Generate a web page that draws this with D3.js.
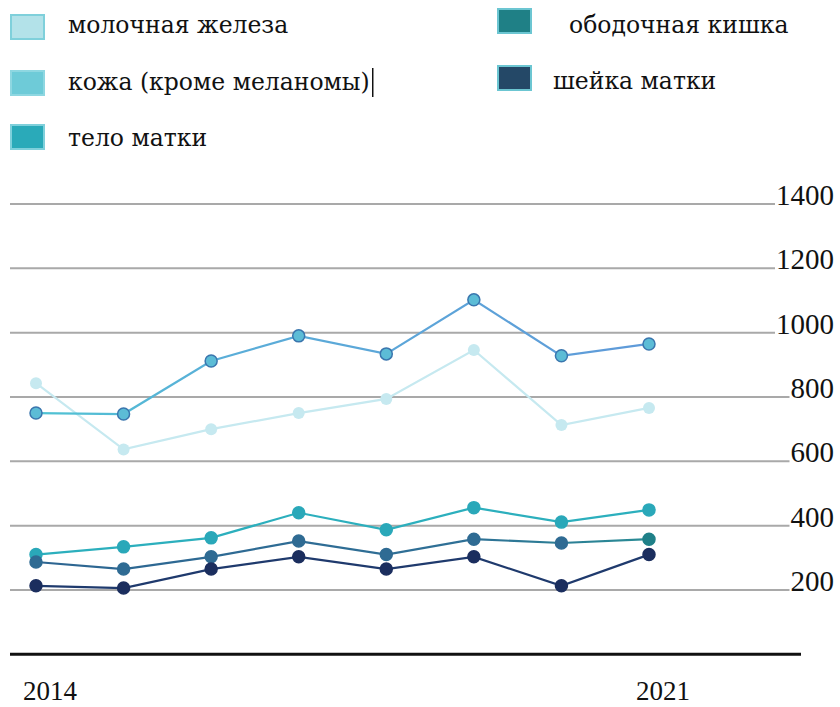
<!DOCTYPE html>
<html>
<head>
<meta charset="utf-8">
<script src="https://cdn.jsdelivr.net/npm/d3@7/dist/d3.min.js"></script>
<style>
  html, body { margin: 0; padding: 0; background: #ffffff; }
  svg { display: block; }
  text { font-family: "Liberation Serif", "DejaVu Serif", serif; fill: #111; }
  text.legend-label { font-family: "DejaVu Serif", "Liberation Serif", serif; }
</style>
</head>
<body>
<svg id="chart" width="840" height="707"></svg>
<script>
// Years on the horizontal axis
const years = [2014, 2015, 2016, 2017, 2018, 2019, 2020, 2021];
// Labelled years
const yearLabels = [2014, 2021];
// Gridline values on the right-hand axis
const yTicks = [200, 400, 600, 800, 1000, 1200, 1400];

// Series values, one array per cancer site
const breast = [843, 637, 700, 750, 794, 946, 713, 766];       // молочная железа
const skin = [750, 747, 912, 990, 934, 1102, 928, 965];        // кожа (кроме меланомы)
const uterus = [310, 334, 362, 440, 387, 456, 411, 449];       // тело матки
const colon = [287, 265, 303, 352, 310, 358, 346, 358];        // ободочная кишка
const cervix = [213, 206, 265, 303, 265, 303, 213, 310];       // шейка матки

const seriesNames = ["молочная железа", "кожа (кроме меланомы)", "тело матки", "ободочная кишка", "шейка матки"];

const series = [
  { name: seriesNames[0], values: breast, line: "#c6e9f0", fill: "#c6e9f0", stroke: "none", swatch: "#b3e2e9", swatchStroke: "#7fd0db" },
  { name: seriesNames[1], values: skin, line: "url(#gradSkin)", fill: "#5cbcd6", stroke: "#3a76ae", swatch: "#6ecbd8", swatchStroke: "#8ed7e1" },
  { name: seriesNames[2], values: uterus, line: "#2cafbd", fill: "#2aa8b9", stroke: "#2aa8b9", swatch: "#2aaab9", swatchStroke: "#7fd0db" },
  { name: seriesNames[3], values: colon, line: "url(#gradColon)", fill: "#2f6b93", stroke: "#2f6b93", swatch: "#1f8086", swatchStroke: "#6cc6d2" },
  { name: seriesNames[4], values: cervix, line: "#1f3a6d", fill: "#1b2e5e", stroke: "#1b2e5e", swatch: "#244867", swatchStroke: "#6cc6d2" }
];

const svg = d3.select("#chart");

// Gradients for the two lines that shift hue along their length
const defs = svg.append("defs");
function hGradient(id, c0, c1, mid) {
  const g = defs.append("linearGradient").attr("id", id)
    .attr("gradientUnits", "userSpaceOnUse")
    .attr("x1", 36).attr("x2", 649).attr("y1", 0).attr("y2", 0);
  g.append("stop").attr("offset", "0%").attr("stop-color", c0);
  if (mid) g.append("stop").attr("offset", mid[0]).attr("stop-color", mid[1]);
  g.append("stop").attr("offset", "100%").attr("stop-color", c1);
}
hGradient("gradSkin", "#4fc3d3", "#5f9ad9", ["30%", "#5aaed8"]);
hGradient("gradColon", "#2d6591", "#2a8c95", ["70%", "#2f7096"]);

const x = d3.scalePoint().domain(years).range([36, 649]);
const y = d3.scaleLinear().domain([0, 1400]).range([654.3, 204]);

// Right-hand tick labels with gridlines running up to each label
const tickRight = 834;
const grid = svg.append("g");
yTicks.forEach(t => {
  const label = grid.append("text")
    .attr("x", tickRight).attr("y", y(t) + 1)
    .attr("text-anchor", "end")
    .attr("font-size", 29)
    .text(t);
  const w = label.node().getComputedTextLength();
  grid.insert("line", "text")
    .attr("x1", 10).attr("x2", tickRight - w - 1)
    .attr("y1", y(t)).attr("y2", y(t))
    .attr("stroke", "#a9a9a9").attr("stroke-width", 2);
});

// Baseline
svg.append("line")
  .attr("x1", 10).attr("x2", 801)
  .attr("y1", y(0)).attr("y2", y(0))
  .attr("stroke", "#111").attr("stroke-width", 3);

// Year labels
svg.append("g").selectAll("text").data(yearLabels).join("text")
  .attr("x", d => x(d) + 14).attr("y", 700)
  .attr("text-anchor", "middle")
  .attr("font-size", 27)
  .text(d => d);

// Lines and markers
const line = d3.line().x((d, i) => x(years[i])).y(d => y(d));
const plot = svg.append("g");
series.forEach(s => {
  plot.append("path")
    .attr("d", line(s.values))
    .attr("fill", "none")
    .attr("stroke", s.line)
    .attr("stroke-width", 2.2);
});
series.forEach((s, si) => {
  plot.append("g").selectAll("circle").data(s.values).join("circle")
    .attr("cx", (d, i) => x(years[i]))
    .attr("cy", d => y(d))
    .attr("r", 6)
    .attr("fill", (d, i) => (si === 3 && i === s.values.length - 1) ? "#1f8088" : s.fill)
    .attr("stroke", (d, i) => (si === 3 && i === s.values.length - 1) ? "#1f8088" : s.stroke)
    .attr("stroke-width", 1.5);
});

// Legend: two columns
const legendPos = [
  { sx: 10, sy: 14, tx: 68, ty: 33 },
  { sx: 10, sy: 70, tx: 68, ty: 90 },
  { sx: 10, sy: 124, tx: 68, ty: 146 },
  { sx: 497, sy: 8, tx: 569, ty: 33 },
  { sx: 497, sy: 65, tx: 553, ty: 89 }
];
const legend = svg.append("g");
series.forEach((s, i) => {
  const p = legendPos[i];
  legend.append("rect")
    .attr("x", p.sx + 1).attr("y", p.sy + 1)
    .attr("width", 33).attr("height", 24)
    .attr("fill", s.swatch)
    .attr("stroke", s.swatchStroke).attr("stroke-width", 2);
  const t = legend.append("text")
    .attr("class", "legend-label")
    .attr("x", p.tx).attr("y", p.ty)
    .attr("font-size", 23.5)
    .text(s.name);
  if (i === 1) {
    // caret mark after the second entry
    const w = t.node().getComputedTextLength();
    legend.append("line")
      .attr("x1", p.tx + w + 3).attr("x2", p.tx + w + 3)
      .attr("y1", p.ty - 22).attr("y2", p.ty + 7)
      .attr("stroke", "#111").attr("stroke-width", 1.5);
  }
});
</script>
</body>
</html>
